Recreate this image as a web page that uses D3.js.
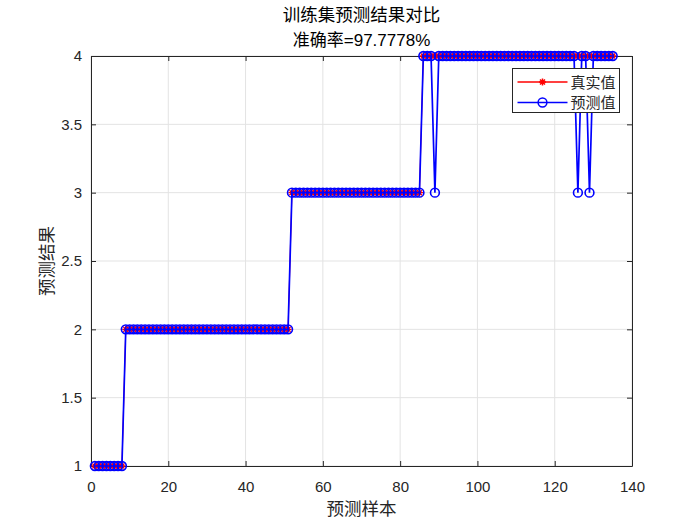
<!DOCTYPE html>
<html>
<head>
<meta charset="utf-8">
<script src="https://cdn.jsdelivr.net/npm/d3@7"></script>
<style>
  body { margin: 0; background: #fff; }
  svg { font-family: "Liberation Sans", Arial, sans-serif; }
  .cjk { font-family: "Noto Sans CJK SC", sans-serif; }
  .mix { font-family: "Liberation Sans", "Noto Sans CJK SC", sans-serif; }
</style>
</head>
<body>
<svg id="chart" width="700" height="525"></svg>
<script>
// class runs of the true labels (value, count)
const trueRuns = [[1, 8], [2, 43], [3, 34], [4, 50]];
// samples where the prediction differs: [sample index, predicted value]
const wrongSamples = [[89, 3], [126, 3], [129, 3]];
const xTicks = [0, 20, 40, 60, 80, 100, 120, 140];
const yTicks = [1, 1.5, 2, 2.5, 3, 3.5, 4];

// build the sample arrays
const trueVals = [];
trueRuns.forEach(([v, n]) => { for (let i = 0; i < n; i++) trueVals.push(v); });
const predVals = trueVals.slice();
wrongSamples.forEach(([i, v]) => { predVals[i - 1] = v; });

const margin = { left: 91, right: 68, top: 56, bottom: 59 };
const width = 700, height = 525;

const svg = d3.select("#chart");

const x = d3.scaleLinear().domain([0, 140]).range([margin.left, width - margin.right]);
const y = d3.scaleLinear().domain([1, 4]).range([height - margin.bottom, margin.top]);

// grid
svg.append("g").selectAll("line.gx")
    .data(xTicks)
    .join("line")
    .attr("x1", d => x(d)).attr("x2", d => x(d))
    .attr("y1", y(1)).attr("y2", y(4))
    .attr("stroke", "#e3e3e3").attr("stroke-width", 1);
svg.append("g").selectAll("line.gy")
    .data(yTicks)
    .join("line")
    .attr("x1", x(0)).attr("x2", x(140))
    .attr("y1", d => y(d)).attr("y2", d => y(d))
    .attr("stroke", "#e3e3e3").attr("stroke-width", 1);

// axes, ticks pointing inward
const axisColor = "#262626";
svg.append("g")
    .attr("transform", `translate(0,${y(1)})`)
    .call(d3.axisBottom(x).tickValues(xTicks).tickSizeInner(-5).tickSizeOuter(0).tickPadding(15));
svg.append("g")
    .attr("transform", `translate(${x(0)},0)`)
    .call(d3.axisLeft(y).tickValues(yTicks).tickSizeInner(-5).tickSizeOuter(0).tickPadding(9)
        .tickFormat(d3.format("")));
// top and right box sides with ticks
svg.append("g")
    .attr("transform", `translate(0,${y(4)})`)
    .call(d3.axisTop(x).tickValues(xTicks).tickSizeInner(-5).tickSizeOuter(0).tickFormat(""));
svg.append("g")
    .attr("transform", `translate(${x(140)},0)`)
    .call(d3.axisRight(y).tickValues(yTicks).tickSizeInner(-5).tickSizeOuter(0).tickFormat(""));

svg.selectAll(".domain, .tick line").attr("stroke", axisColor);
svg.selectAll(".tick text").attr("fill", axisColor).attr("font-size", "15px")
    .attr("font-family", "Liberation Sans, Arial, sans-serif");

// lines
const line = d3.line().x((d, i) => x(i + 1)).y(d => y(d));

svg.append("path")
    .datum(trueVals)
    .attr("d", line)
    .attr("fill", "none")
    .attr("stroke", "red")
    .attr("stroke-width", 1);

// red star markers
const star = "M-3.5,0H3.5M0,-3.5V3.5M-2.5,-2.5L2.5,2.5M-2.5,2.5L2.5,-2.5";
svg.append("g").selectAll("path")
    .data(trueVals)
    .join("path")
    .attr("transform", (d, i) => `translate(${x(i + 1)},${y(d)})`)
    .attr("d", star)
    .attr("stroke", "red")
    .attr("stroke-width", 1.3)
    .attr("fill", "none");

svg.append("path")
    .datum(predVals)
    .attr("d", line)
    .attr("fill", "none")
    .attr("stroke", "blue")
    .attr("stroke-width", 1.7);

svg.append("g").selectAll("circle")
    .data(predVals)
    .join("circle")
    .attr("cx", (d, i) => x(i + 1))
    .attr("cy", d => y(d))
    .attr("r", 4.4)
    .attr("fill", "none")
    .attr("stroke", "blue")
    .attr("stroke-width", 1.6);

// titles
svg.append("text")
    .attr("class", "cjk")
    .attr("x", (x(0) + x(140)) / 2).attr("y", 21)
    .attr("text-anchor", "middle")
    .attr("font-size", "17.5px").attr("fill", "#000")
    .text("训练集预测结果对比");
svg.append("text")
    .attr("class", "mix")
    .attr("x", (x(0) + x(140)) / 2).attr("y", 46)
    .attr("text-anchor", "middle")
    .attr("font-size", "17px").attr("fill", "#000")
    .text("准确率=97.7778%");

svg.append("text")
    .attr("class", "cjk")
    .attr("x", (x(0) + x(140)) / 2).attr("y", 515)
    .attr("text-anchor", "middle")
    .attr("font-size", "17.5px").attr("fill", axisColor)
    .text("预测样本");
svg.append("text")
    .attr("class", "cjk")
    .attr("transform", `translate(53,${(y(1) + y(4)) / 2}) rotate(-90)`)
    .attr("text-anchor", "middle")
    .attr("font-size", "17.5px").attr("fill", axisColor)
    .text("预测结果");

// legend
const legend = svg.append("g").attr("transform", "translate(512.5,68.5)");
legend.append("rect")
    .attr("width", 107).attr("height", 44)
    .attr("fill", "#fff").attr("stroke", axisColor).attr("stroke-width", 1);
const legendItems = [
    { label: "真实值", color: "red", marker: "star" },
    { label: "预测值", color: "blue", marker: "circle" }
];
legendItems.forEach((d, i) => {
    const g = legend.append("g").attr("transform", `translate(0,${13.5 + i * 20.5})`);
    g.append("line").attr("x1", 5).attr("x2", 55).attr("stroke", d.color).attr("stroke-width", 1.5);
    if (d.marker === "star") {
        g.append("path").attr("d", star).attr("transform", "translate(30,0)")
            .attr("stroke", d.color).attr("stroke-width", 1.5);
    } else {
        g.append("circle").attr("cx", 30).attr("r", 4.4)
            .attr("fill", "none").attr("stroke", d.color).attr("stroke-width", 1.5);
    }
    g.append("text").attr("class", "cjk")
        .attr("x", 58).attr("y", 5.5)
        .attr("font-size", "15px").attr("fill", axisColor)
        .text(d.label);
});
</script>
</body>
</html>
